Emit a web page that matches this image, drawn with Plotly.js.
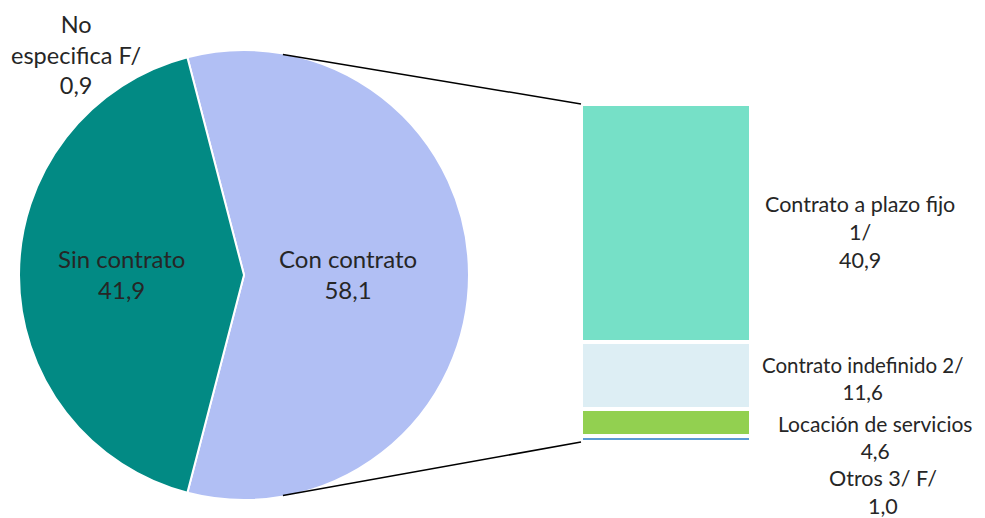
<!DOCTYPE html>
<html>
<head>
<meta charset="utf-8">
<script src="https://cdn.plot.ly/plotly-3.0.1.min.js"></script>
<style>
  body { margin: 0; background: #fff; }
  #chart { width: 985px; height: 518px; }
</style>
</head>
<body>
<div id="chart"></div>
<script>
// pie: first slice (Con contrato) is the one broken out into the bar
var pieLabels = ["Con contrato", "Sin contrato"];
var pieValues = [58.1, 41.9];
var pieColors = ["#B1BFF4", "#028A84"];

var noEspLabel = "No<br>especifica F/";
var noEspValue = 0.9;

// bar, top to bottom
var barLabels = ["Contrato a plazo fijo<br>1/", "Contrato indefinido 2/", "Locación de servicios", "Otros 3/ F/"];
var barValues = [40.9, 11.6, 4.6, 1.0];
var barColors = ["#76E0C7", "#DDEEF4", "#92D050", "#5B9BD5"];

var W = 985, H = 518;
var FONT = "Lato, 'Open Sans', sans-serif";
var TXT = "#262626";

function fmt(v) { return v.toFixed(1).replace(".", ","); }

// pie box in px (plotly leaves a hair of padding)
var pieBox = { x0: 18, x1: 470, y0: 50, y1: 500 };
var pieDom = { x: [pieBox.x0 / W, pieBox.x1 / W], y: [1 - pieBox.y1 / H, 1 - pieBox.y0 / H] };
var barDom = { x: [581 / W, 751 / W], y: [1 - 442 / H, 1 - 104 / H] };

var pieTotal = pieValues.reduce((a, b) => a + b, 0);
var rot = 90 - 360 * pieValues[0] / pieTotal / 2;

var traces = [];
traces.push({
  type: "pie",
  labels: pieLabels,
  values: pieValues,
  sort: false,
  direction: "clockwise",
  rotation: rot,
  marker: { colors: pieColors, line: { color: "#fff", width: 2 } },
  textinfo: "none",
  hoverinfo: "label+value",
  domain: pieDom,
  showlegend: false
});

// stacked bar, bottom first
for (var i = barValues.length - 1; i >= 0; i--) {
  traces.push({
    type: "bar",
    x: [0],
    y: [barValues[i]],
    width: [1],
    name: barLabels[i],
    marker: { color: barColors[i], line: { color: "#fff", width: 4 } },
    hoverinfo: "name+y",
    showlegend: false
  });
}

// connector lines from pie edge to bar corners
var cx = 244, cy = 275, r = 224;
var a = 10 * Math.PI / 180;
var topPt = [(cx + r * Math.sin(a)) / W, 1 - (cy - r * Math.cos(a)) / H];
var botPt = [(cx + r * Math.sin(a)) / W, 1 - (cy + r * Math.cos(a)) / H];
var shapes = [
  { type: "line", xref: "paper", yref: "paper", x0: topPt[0], y0: topPt[1], x1: barDom.x[0], y1: barDom.y[1], line: { color: "#000", width: 1.5 } },
  { type: "line", xref: "paper", yref: "paper", x0: botPt[0], y0: botPt[1], x1: barDom.x[0], y1: barDom.y[0], line: { color: "#000", width: 1.5 } }
];

function ann(text, x, y, size) {
  return { xref: "paper", yref: "paper", x: x / W, y: 1 - y / H, text: text, showarrow: false,
    xanchor: "center", yanchor: "middle", align: "center", font: { family: FONT, size: size, color: TXT } };
}

var annotations = [
  ann(noEspLabel + "<br>" + fmt(noEspValue), 76, 54, 23.5),
  ann(pieLabels[1] + "<br>" + fmt(pieValues[1]), 121, 274, 24),
  ann(pieLabels[0] + "<br>" + fmt(pieValues[0]), 348, 274, 24),
  ann(barLabels[0] + "<br>" + fmt(barValues[0]), 860, 232, 21.5),
  ann(barLabels[1] + "<br>" + fmt(barValues[1]), 862, 378, 20.5),
  ann(barLabels[2] + "<br>" + fmt(barValues[2]), 875, 437, 21),
  ann(barLabels[3] + "<br>" + fmt(barValues[3]), 883, 492, 21.5)
];

var layout = {
  width: W,
  height: H,
  margin: { l: 0, r: 0, t: 0, b: 0 },
  paper_bgcolor: "#fff",
  plot_bgcolor: "rgba(0,0,0,0)",
  barmode: "stack",
  bargap: 0,
  font: { family: FONT, color: TXT },
  xaxis: { domain: barDom.x, range: [-0.5, 0.5], visible: false, fixedrange: true },
  yaxis: { domain: barDom.y, range: [0, barValues.reduce((a, b) => a + b, 0)], visible: false, fixedrange: true },
  shapes: shapes,
  annotations: annotations
};

Plotly.newPlot("chart", traces, layout, { displayModeBar: false, staticPlot: true });
</script>
</body>
</html>
